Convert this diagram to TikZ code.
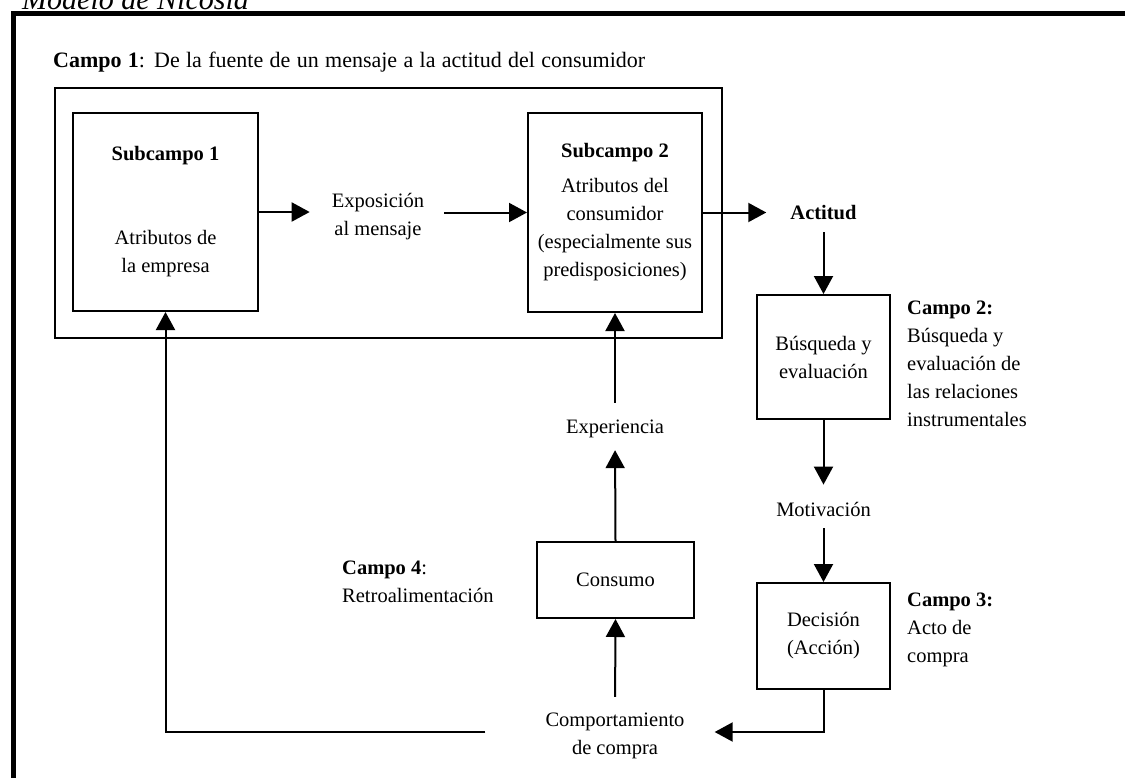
\documentclass[tikz,border=0pt]{standalone}
\usepackage{fontspec}
\setmainfont{Liberation Serif}
\usetikzlibrary{arrows.meta,positioning}

\begin{document}
\begin{tikzpicture}[x=1pt, y=-1pt, >={Triangle[length=18pt,width=19pt]},
    every node/.style={font=\fontsize{20.5}{28}\selectfont, inner sep=0pt, align=center},
    caja/.style={draw, line width=2pt},
    texto/.style={align=left, anchor=west},
    flecha/.style={->, line width=2pt}]
    \useasboundingbox (0,0) rectangle (1125,777);
    \clip (0,0) rectangle (1125,777);

    % Frame and title
    \node [anchor=base west, font=\fontsize{30}{36}\selectfont\itshape] (titulo) at (22,9) {Modelo de Nicosia};
    \draw [line width=5pt] (13,790) -- (13,13) -- (1140,13);

    % Nodes
    \node [anchor=base west, font=\fontsize{22}{28}\selectfont] (campo1) at (53,67) {\makebox[592pt][s]{\textbf{Campo 1}: De la fuente de un mensaje a la actitud del consumidor}};
    \node [caja, minimum width=667pt, minimum height=250pt] (marco) at (388.5,213) {};
    \node [caja, minimum width=185pt, minimum height=198pt] (sub1) at (165.5,212) {\textbf{Subcampo 1}\\[56pt]Atributos de\\la empresa};
    \node (expo) at (378,217) {Exposición\\al mensaje};
    \node [caja, minimum width=174pt, minimum height=199pt] (sub2) at (615,212.5) {\textbf{Subcampo 2}\\[7pt]Atributos del\\consumidor\\(especialmente sus\\predisposiciones)};
    \node (actitud) at (823.5,213) {\textbf{Actitud}};
    \node [caja, minimum width=133pt, minimum height=124pt] (busq) at (823.5,357) {Búsqueda y\\evaluación};
    \node [texto] (campo2) at (907,364) {\textbf{Campo 2:}\\Búsqueda y\\evaluación de\\las relaciones\\instrumentales};
    \node (motiv) at (823.5,509) {Motivación};
    \node [caja, minimum width=133pt, minimum height=106pt] (dec) at (823.5,636) {Decisión\\(Acción)};
    \node [texto] (campo3) at (907,630) {\textbf{Campo 3:}\\Acto de\\compra};
    \node (comp) at (615,736) {Comportamiento\\de compra};
    \node [caja, minimum width=157pt, minimum height=76pt] (cons) at (615.5,580) {Consumo};
    \node (expe) at (615,429) {Experiencia};
    \node [texto] (campo4) at (342,581.5) {\textbf{Campo 4}:\\Retroalimentación};

    % Paths
    \draw [flecha, shorten >=22pt] (sub1.east) -- (sub1.east -| expo.west);
    \draw [flecha, shorten <=20pt] (expo.east |- sub2.west) -- (sub2.west);
    \draw [flecha, shorten >=24pt] (sub2.east) -- (sub2.east -| actitud.west);
    \draw [flecha, shorten <=12pt] (actitud.south) -- (busq.north);
    \draw [flecha, shorten >=17pt] (busq.south) -- (motiv.north);
    \draw [flecha, shorten <=12pt] (motiv.south) -- (dec.north);
    \draw [flecha, shorten >=30pt] (dec.south) |- ([yshift=4pt]comp.east);
    \draw [flecha, shorten <=16pt] (comp.north) -- (cons.south);
    \draw [flecha, shorten >=12pt] (cons.north) -- (expe.south);
    \draw [flecha, shorten <=17pt] (expe.north) -- (sub2.south);
    \draw [flecha] ([xshift=-60pt, yshift=4pt]comp.west) -| (sub1.south);
\end{tikzpicture}
\end{document}
